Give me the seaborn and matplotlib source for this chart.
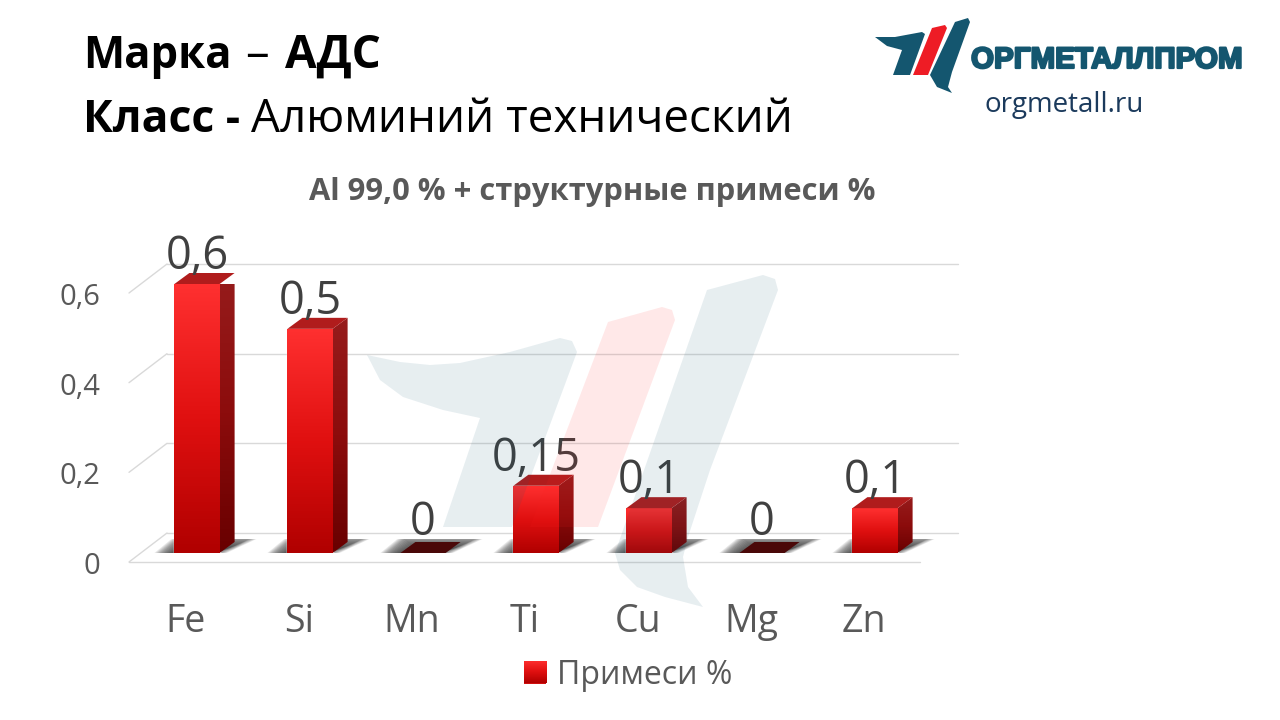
import matplotlib
matplotlib.use("Agg")
import matplotlib.pyplot as plt
import matplotlib.patheffects as pe
import matplotlib.transforms as mtransforms
from matplotlib.colors import LinearSegmentedColormap
from matplotlib.patches import Polygon, Patch
import numpy as np
import pandas as pd
import seaborn as sns

elements = ["Fe", "Si", "Mn", "Ti", "Cu", "Mg", "Zn"]
impurities = [0.6, 0.5, 0, 0.15, 0.1, 0, 0.1]
value_labels = ["0,6", "0,5", "0", "0,15", "0,1", "0", "0,1"]
y_ticks = [0, 0.2, 0.4, 0.6]
y_tick_labels = ["0", "0,2", "0,4", "0,6"]
series_name = "Примеси %"

sns.set_theme(style="white")
plt.rcParams["font.family"] = ["Open Sans", "DejaVu Sans"]

fig = plt.figure(figsize=(12.8, 7.2), dpi=100, facecolor="white")
W, H = 1280, 720
# pixel coords, y going down, for the header and logo pieces
px = mtransforms.Affine2D().scale(1 / W, -1 / H).translate(0, 1) + fig.transFigure

# plot area: categories every 113 px, y=0 at 553 px, y=0.6 at 284 px
ax = fig.add_axes([140.5 / W, 1 - 553 / H, 791 / W, 269 / H])
ax.patch.set_alpha(0)

df = pd.DataFrame({"element": elements, "value": impurities})
BAR_W = 0.4
sns.barplot(data=df, x="element", y="value", width=BAR_W, color="#d01010",
            saturation=1, ax=ax, zorder=3)
ax.set_xlim(-0.5, 6.5)
ax.set_ylim(0, 0.6)


def shifted(dx, dy):
    return ax.transData + mtransforms.ScaledTranslation(dx / 100, dy / 100, fig.dpi_scale_trans)


# back wall + floor grid
grid_col = "#d9d9d9"
back = shifted(26.5, 20)
front = shifted(-11.5, -9)
for v in y_ticks:
    ax.plot([-0.5, 6.5], [v, v], color=grid_col, lw=1, clip_on=False, zorder=1, transform=back)
    # short diagonal from the front edge up to the wall
    a = front.transform((-0.5, v))
    b = back.transform((-0.5, v))
    ax.plot([a[0], b[0]], [a[1], b[1]], color=grid_col, lw=1, clip_on=False, zorder=1,
            transform=mtransforms.IdentityTransform())
ax.plot([-0.5, 6.5], [0, 0], color=grid_col, lw=1, clip_on=False, zorder=1, transform=front)

front_cmap = LinearSegmentedColormap.from_list("front", ["#b00000", "#e01010", "#ff3030"])
side_cmap = LinearSegmentedColormap.from_list("side", ["#680000", "#8c0c0c", "#961c1c"])
grad = np.linspace(0, 1, 256).reshape(-1, 1)
DX, DY = 15 / 113, 11 / (269 / 0.6)
unit_x = 1 / 113
unit_y = 0.6 / 269

for i, (bar, v) in enumerate(zip(ax.patches, impurities)):
    x0, x1 = i - BAR_W / 2, i + BAR_W / 2
    # soft floor shadow, stacked so the edge fades out
    for grow in np.linspace(-14, 7, 16):
        g = grow * unit_x
        top = (14 + min(grow, 0) * 0.7) * unit_y
        ax.add_patch(Polygon([(x0 - 13 * unit_x - g, 0), (x1 + g, 0),
                              (x1 + 30 * unit_x + g, top), (x0 + 4 * unit_x - g, top)],
                             closed=True, fc="#303030", ec="none", alpha=0.11, zorder=2, clip_on=False))
    if v == 0:
        ax.add_patch(Polygon([(x0, 0), (x1, 0), (x1 + DX, DY), (x0 + DX, DY)], closed=True,
                             fc="#4a0808", ec="none", zorder=3, clip_on=False))
        bar.set_visible(False)
    else:
        im = ax.imshow(grad, extent=(x0, x1, 0, v), origin="lower", aspect="auto",
                       cmap=front_cmap, zorder=4)
        im.set_clip_path(bar)
        side = Polygon([(x1, 0), (x1 + DX, DY), (x1 + DX, v + DY), (x1, v)], closed=True,
                       fc="none", ec="none", transform=ax.transData)
        ax.add_patch(side)
        im2 = ax.imshow(grad, extent=(x1, x1 + DX, 0, v + DY), origin="lower", aspect="auto",
                        cmap=side_cmap, zorder=4)
        im2.set_clip_path(side)
        ax.add_patch(Polygon([(x0, v), (x1, v), (x1 + DX, v + DY), (x0 + DX, v + DY)], closed=True,
                             fc="#b01c1c", ec="none", zorder=4, clip_on=False))
    ax.annotate(value_labels[i], (i, v), xytext=(0, 3 if v else 5), textcoords="offset points",
                ha="center", va="bottom", fontsize=32.5, color="#404040", zorder=6,
                annotation_clip=False)

ax.set_xlim(-0.5, 6.5)
ax.set_ylim(0, 0.6)
sns.despine(ax=ax, left=True, bottom=True, right=True, top=True)
ax.set_xlabel("")
ax.set_ylabel("")
ax.set_yticks(y_ticks)
ax.set_yticklabels(y_tick_labels)
ax.tick_params(axis="y", length=0, pad=29, labelsize=21, labelcolor="#595959")
ax.tick_params(axis="x", length=0, pad=36, labelsize=27, labelcolor="#595959")
y_shift = mtransforms.ScaledTranslation(0, -10 / 100, fig.dpi_scale_trans)
for lab in ax.get_yticklabels():
    lab.set_transform(lab.get_transform() + y_shift)
x_shift = mtransforms.ScaledTranslation(-11 / 100, 0, fig.dpi_scale_trans)
for lab in ax.get_xticklabels():
    lab.set_transform(lab.get_transform() + x_shift)

# legend
leg = ax.legend(handles=[Patch(fc="#d01010", ec="none", label=series_name)], loc="center",
                bbox_to_anchor=(628 / W, 1 - 675 / H), bbox_transform=fig.transFigure, frameon=False,
                fontsize=23, labelcolor="#595959", handlelength=0.7, handleheight=0.7, handletextpad=0.35)

# same red gradient over the legend swatch
fig.canvas.draw()
box = leg.legend_handles[0].get_window_extent().transformed(fig.transFigure.inverted())
swatch = fig.add_axes([box.x0, box.y0, box.width, box.height], zorder=3)
swatch.imshow(grad, origin="lower", aspect="auto", cmap=front_cmap)
swatch.axis("off")

# watermark on top of the bars, very faint
wing = [(367, 355), (400, 362), (430, 365), (460, 363), (510, 352), (560, 338), (572, 341), (577, 352),
        (512, 527), (443, 527), (480, 418), (443, 410), (403, 397), (380, 380)]
stripe = [(608, 322), (662, 307), (672, 310), (675, 320), (598, 527), (530, 527)]
blade = [(707, 290), (763, 275), (775, 279), (778, 290), (710, 470), (688, 537), (683, 557), (688, 587),
         (703, 607), (665, 597), (637, 587), (620, 570), (615, 553)]
for pts, col in [(wing, "#155a75"), (stripe, "#ff2020"), (blade, "#155a75")]:
    fig.add_artist(Polygon(pts, closed=True, fc=col, ec="none", alpha=0.1, transform=px, zorder=5))

# logo
logo_blue = "#14566f"
logo_wing = [(875, 37), (895, 37), (922, 32), (925, 34), (910, 75), (893, 75), (902, 50), (887, 46)]
logo_red = [(932, 28), (945, 25), (947, 28), (928, 75), (913, 75)]
logo_blade = [(955, 22), (968, 18), (970, 22), (952, 72), (948, 87), (952, 93), (937, 87), (930, 75)]
for pts, col in [(logo_wing, logo_blue), (logo_red, "#ee1c25"), (logo_blade, logo_blue)]:
    fig.add_artist(Polygon(pts, closed=True, fc=col, ec="none", transform=px))


def put(x, y, s, **kw):
    return fig.text(x / W, 1 - y / H, s, **kw)


logo_text = put(971, 68, "ОРГМЕТАЛЛПРОМ", fontsize=21.3, fontweight="bold", color=logo_blue,
                family=["Liberation Sans"], va="baseline")
logo_text.set_path_effects([pe.withStroke(linewidth=1.6, foreground=logo_blue)])
put(984, 112, "orgmetall.ru", fontsize=20, color="#1b3a5c", va="baseline")

# header
put(83, 68, "Марка", fontsize=31.5, fontweight="bold", color="black", va="baseline")
put(245, 68, "–", fontsize=34, color="black", va="baseline")
put(285, 68, "АДС", fontsize=33, fontweight="bold", color="black", va="baseline")
put(83, 132, "Класс -", fontsize=32, fontweight="bold", color="black", va="baseline")
put(251, 132, "Алюминий технический", fontsize=33, color="black", va="baseline")
put(592, 200, "Al 99,0 % + структурные примеси %", fontsize=22.2, fontweight="bold",
    color="#595959", ha="center", va="baseline")

fig.savefig("out.png", dpi=100)
